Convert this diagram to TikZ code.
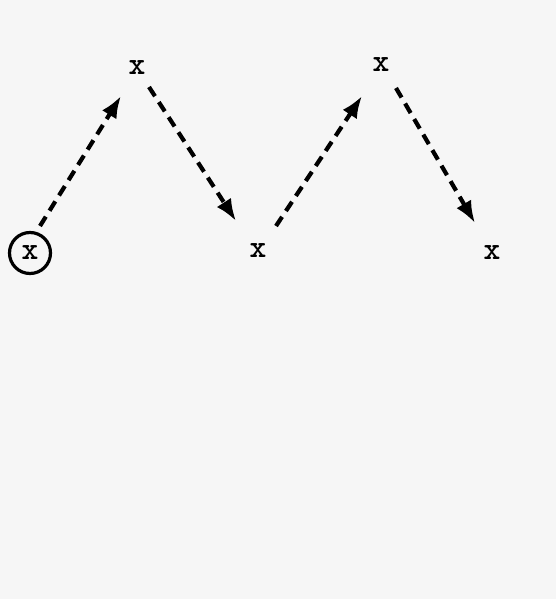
\documentclass[tikz,border=0pt]{standalone}
\usetikzlibrary{arrows.meta}
\definecolor{paper}{HTML}{F6F6F6}
\begin{document}
\begin{tikzpicture}[x=1pt,y=-1pt,
  lbl/.style={font=\ttfamily\bfseries\fontsize{32}{36}\selectfont, inner sep=0pt},
  start/.style={lbl, draw, circle, line width=3.2pt, minimum size=41pt},
  run/.style={line width=4.2pt, dash pattern=on 11pt off 7pt, -{Latex[length=22pt,width=17pt]}}]
\fill[paper] (0,0) rectangle (556,599);
\useasboundingbox (0,0) rectangle (556,599);
\node[start] (p0) at (30,253) {x};
\node[lbl] (p1) at (137,68) {x};
\node[lbl] (p2) at (258,251) {x};
\node[lbl] (p3) at (381,65) {x};
\node[lbl] (p4) at (492,253) {x};
\coordinate (a0) at (40,226);
\coordinate (b0) at (121,96);
\coordinate (a1) at (149,87);
\coordinate (b1) at (236,221);
\coordinate (a2) at (276,226);
\coordinate (b2) at (362,96);
\coordinate (a3) at (396,88);
\coordinate (b3) at (475,223);
\draw[run] (a0) -- (b0);
\draw[run] (a1) -- (b1);
\draw[run] (a2) -- (b2);
\draw[run] (a3) -- (b3);
\end{tikzpicture}
\end{document}
